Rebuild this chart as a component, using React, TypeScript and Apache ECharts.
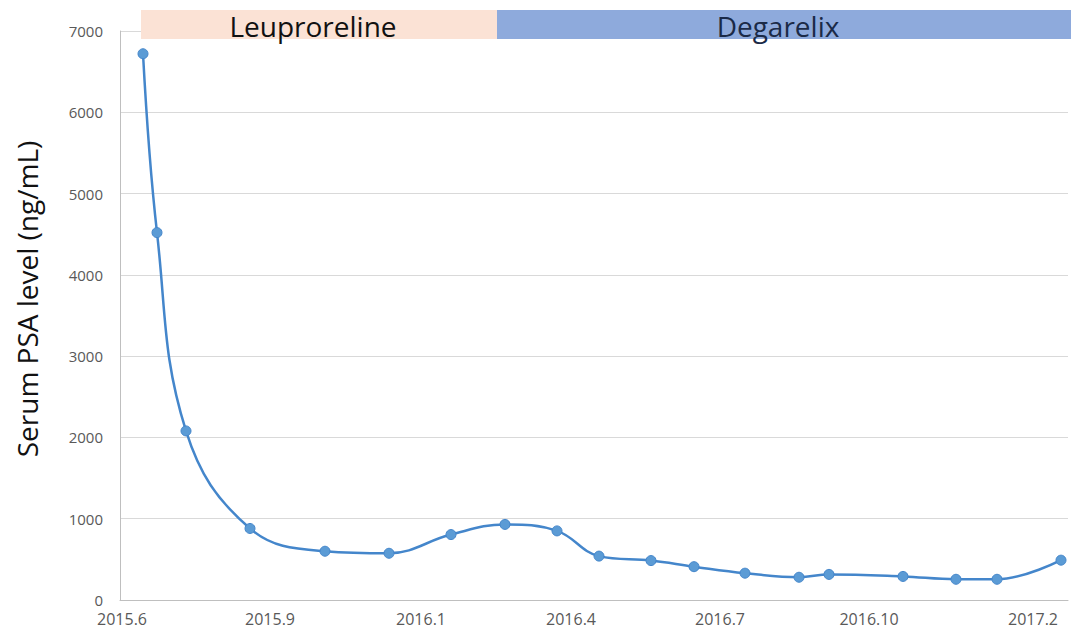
import React, { useEffect, useRef } from "react";
import * as echarts from "echarts";

// x positions are in plot-distance units measured from the left of the axis
const xTickValues = [2, 150, 301, 451, 600, 749, 913];
const xTickLabels = ["2015.6", "2015.9", "2016.1", "2016.4", "2016.7", "2016.10", "2017.2"];

const pointX = [23, 37, 66, 130, 205, 269, 331, 385, 437, 479, 531, 574, 625, 679, 709, 783, 836, 877, 941];
const psaValues = [6720, 4520, 2080, 880, 600, 575, 805, 930, 850, 540, 485, 410, 330, 280, 315, 290, 255, 255, 490];

const yTicks = [0, 1000, 2000, 3000, 4000, 5000, 6000, 7000];
const yTitle = "Serum PSA level (ng/mL)";

const phaseNames = ["Leuproreline", "Degarelix"];
const phaseStart = [21, 377];
const phaseEnd = [377, 951];
const phaseFill = ["#fbe2d5", "#8eaadc"];
const phaseText = ["#111111", "#1b2a47"];

const X_MAX = 948;

export default function App() {
  const ref = useRef<HTMLDivElement>(null);
  useEffect(() => {
    document.body.style.margin = "0";
    const chart = echarts.init(ref.current!, null, { renderer: "svg" });
    const font = "'Open Sans', 'Noto Sans', sans-serif";
    chart.setOption({
      animation: false,
      backgroundColor: "#ffffff",
      grid: { left: 120, right: 3, top: 31, bottom: 36, outerBoundsMode: "none", containLabel: false },
      xAxis: {
        type: "value",
        min: 0,
        max: X_MAX,
        splitLine: { show: false },
        axisLine: { show: true, lineStyle: { color: "#bfbfbf", width: 1 } },
        axisTick: { show: false },
        axisLabel: {
          customValues: xTickValues,
          formatter: (v: number) => {
            const i = xTickValues.indexOf(v);
            return i >= 0 ? xTickLabels[i] : "";
          },
          color: "#595959",
          fontSize: 16,
          fontFamily: font,
          margin: 11,
          showMinLabel: true,
          showMaxLabel: true,
        },
      },
      yAxis: {
        type: "value",
        min: yTicks[0],
        max: yTicks[yTicks.length - 1],
        interval: 1000,
        axisLine: { show: true, lineStyle: { color: "#bfbfbf", width: 1 } },
        axisTick: { show: false },
        splitLine: { show: true, lineStyle: { color: "#d9d9d9", width: 1 } },
        axisLabel: {
          color: "#595959",
          fontSize: 15,
          fontFamily: font,
          margin: 17,
          formatter: (v: number) => String(v),
        },
      },
      series: [
        {
          type: "line",
          data: pointX.map((x, i) => [x, psaValues[i]]),
          smooth: 0.4,
          symbol: "circle",
          symbolSize: 10,
          lineStyle: { color: "#4486cb", width: 2.5 },
          itemStyle: { color: "#5b9bd5", borderColor: "#4486cb", borderWidth: 1 },
          clip: false,
        },
      ],
    });

    const bannerTop = 10;
    const bannerHeight = 29;
    const graphics: any[] = [
      {
        type: "text",
        x: 27,
        y: 299,
        rotation: Math.PI / 2,
        style: {
          text: yTitle,
          fill: "#111111",
          fontSize: 28,
          fontFamily: font,
          align: "center",
          verticalAlign: "middle",
        },
      },
    ];
    phaseNames.forEach((name, i) => {
      const x0 = chart.convertToPixel({ xAxisIndex: 0 }, phaseStart[i]) as number;
      const x1 = Math.min(chart.convertToPixel({ xAxisIndex: 0 }, phaseEnd[i]) as number, chart.getWidth());
      graphics.push({
        type: "rect",
        shape: { x: x0, y: bannerTop, width: x1 - x0, height: bannerHeight },
        style: { fill: phaseFill[i] },
        z: 10,
      });
      graphics.push({
        type: "text",
        x: (x0 + x1) / 2 - 6,
        y: bannerTop + bannerHeight / 2 + 1,
        style: {
          text: name,
          fill: phaseText[i],
          fontSize: 28,
          fontFamily: font,
          align: "center",
          verticalAlign: "middle",
        },
        z: 11,
      });
    });
    chart.setOption({ graphic: graphics });

    return () => chart.dispose();
  }, []);
  return <div ref={ref} style={{ width: 1071, height: 636 }} />;
}
